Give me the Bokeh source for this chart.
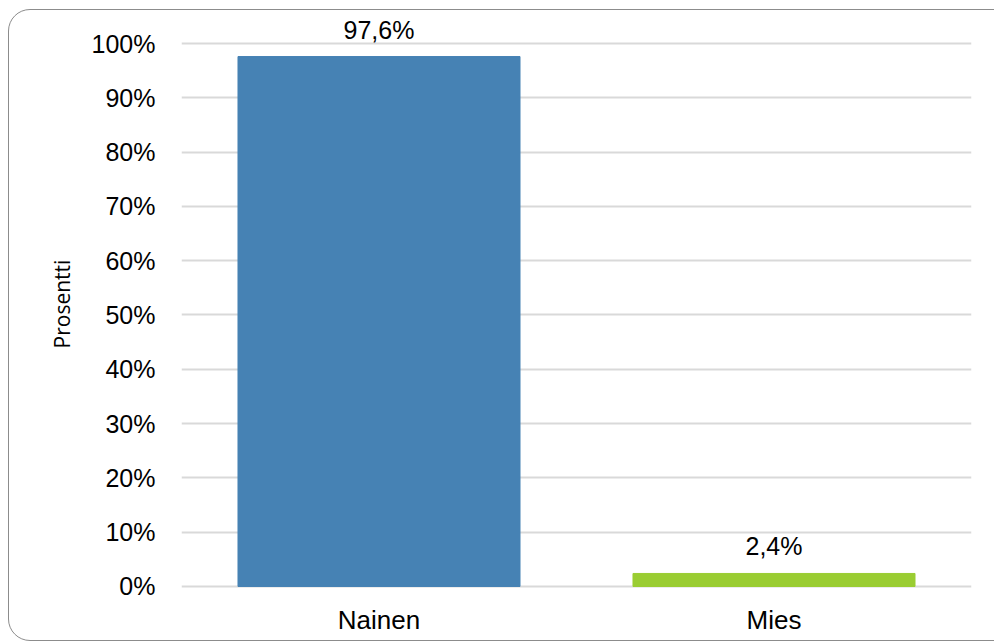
from bokeh.plotting import figure
from bokeh.models import ColumnDataSource, FixedTicker, PrintfTickFormatter, Range1d, InlineStyleSheet
from bokeh.core.properties import value
from bokeh.embed import file_html
from bokeh.resources import INLINE

# Gender distribution (percent)
categories = ["Nainen", "Mies"]
shares = [97.6, 2.4]
bar_colors = ["#4682B4", "#9ACD32"]
y_ticks = [0, 10, 20, 30, 40, 50, 60, 70, 80, 90, 100]

labels = [f"{v:.1f}".replace(".", ",") + "%" for v in shares]
source = ColumnDataSource(dict(cat=categories, val=shares, color=bar_colors, label=labels))

p = figure(
    x_range=categories,
    y_range=Range1d(-1.66, 105.71),
    width=994, height=643,
    output_backend="svg", toolbar_location=None,
    min_border_left=181, min_border_right=23,
    min_border_top=12, min_border_bottom=48,
)
p.x_range.range_padding = 0
p.outline_line_color = None
p.background_fill_color = "white"
p.border_fill_color = "white"

p.vbar(x="cat", top="val", bottom=0, width=0.714, color="color", source=source)

# value labels above the bars
p.text(x="cat", y="val", text="label", source=source,
       text_align="center", text_baseline="alphabetic", y_offset=-27,
       text_font=value("Liberation Sans"), text_font_size="25px", text_color="#000000")

# grid
p.xgrid.grid_line_color = None
p.ygrid.ticker = FixedTicker(ticks=y_ticks)
p.ygrid.grid_line_color = "#d9d9d9"
p.ygrid.grid_line_width = 2

# y axis
p.yaxis.ticker = FixedTicker(ticks=y_ticks)
p.yaxis.formatter = PrintfTickFormatter(format="%d%%")
p.yaxis.axis_line_color = None
p.yaxis.major_tick_line_color = None
p.yaxis.minor_tick_line_color = None
p.yaxis.major_label_standoff = 20
p.yaxis.major_label_text_font = "Liberation Sans"
p.yaxis.major_label_text_font_size = "25px"
p.yaxis.major_label_text_color = "#000000"
p.yaxis.axis_label = "Prosentti"
p.yaxis.axis_label_text_font = "Open Sans"
p.yaxis.axis_label_text_font_style = "normal"
p.yaxis.axis_label_text_font_size = "21px"
p.yaxis.axis_label_text_color = "#000000"
p.yaxis.axis_label_standoff = 13

# x axis
p.xaxis.axis_line_color = None
p.xaxis.major_tick_line_color = None
p.xaxis.minor_tick_line_color = None
p.xaxis.major_label_standoff = 3
p.xaxis.major_label_text_font = "Liberation Sans"
p.xaxis.major_label_text_font_size = "26px"
p.xaxis.major_label_text_color = "#000000"

# rounded outer border around the whole chart
p.stylesheets = [InlineStyleSheet(css="""
:host { overflow: hidden; }
:host::after {
  content: "";
  position: absolute;
  left: 8px; top: 9px; right: -30px; bottom: 2px;
  border: 1.5px solid #8c8c8c;
  border-radius: 22px;
  pointer-events: none;
  z-index: 10;
}
""")]

open("out.html", "w").write(file_html(p, INLINE))
